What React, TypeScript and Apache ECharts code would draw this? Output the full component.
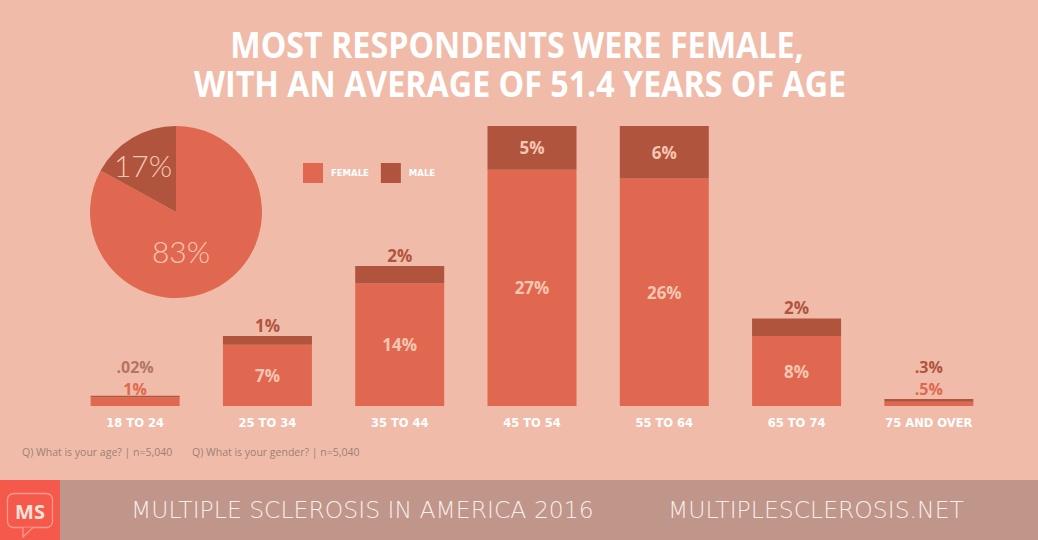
import React, { useEffect, useRef } from "react";
import * as echarts from "echarts";

const categories = ["18 TO 24", "25 TO 34", "35 TO 44", "45 TO 54", "55 TO 64", "65 TO 74", "75 AND OVER"];
const femaleValues = [1, 7, 14, 27, 26, 8, 0.5];
const maleValues = [0.02, 1, 2, 5, 6, 2, 0.3];
const femaleLabels = ["1%", "7%", "14%", "27%", "26%", "8%", ".5%"];
const maleLabels = [".02%", "1%", "2%", "5%", "6%", "2%", ".3%"];
const genderNames = ["FEMALE", "MALE"];
const genderShare = [83, 17];
const titleLines = ["MOST RESPONDENTS WERE FEMALE,", "WITH AN AVERAGE OF 51.4 YEARS OF AGE"];
const footnotes = ["Q) What is your age? | n=5,040", "Q) What is your gender? | n=5,040"];
const footerTexts = ["MULTIPLE SCLEROSIS IN AMERICA 2016", "MULTIPLESCLEROSIS.NET"];

const BG = "#f0bca9";
const FEMALE = "#e06850";
const MALE = "#b0543e";
const LIGHT = "#f6c6b2";
const FONT = "'Open Sans', 'DejaVu Sans', sans-serif";
const WIDE = "'DejaVu Sans', 'Open Sans', sans-serif";

export default function App() {
  const ref = useRef<HTMLDivElement>(null);
  useEffect(() => {
    if (!ref.current) return;
    const chart = echarts.init(ref.current, null, { renderer: "svg" });

    const femaleTopOffsets: Record<number, number[]> = { 0: [0, 3], 6: [0, -2] };
    const maleTopOffsets: Record<number, number[]> = { 0: [0, -17.5], 6: [0, -21] };
    const smallIdx = [0, 6];

    const femaleData = femaleValues.map((v, i) => {
      const inside = v >= 3;
      return {
        value: v,
        label: inside
          ? { show: true, position: "inside", color: LIGHT, formatter: femaleLabels[i] }
          : {
              show: true,
              position: "top",
              color: FEMALE,
              distance: 3,
              fontSize: smallIdx.includes(i) ? 16 : 17,
              lineHeight: 16,
              offset: femaleTopOffsets[i] || [0, 0],
              formatter: femaleLabels[i],
            },
      };
    });
    const maleData = maleValues.map((v, i) => {
      const inside = v >= 4;
      return {
        value: v,
        label: inside
          ? { show: true, position: "inside", color: LIGHT, formatter: maleLabels[i] }
          : {
              show: true,
              position: "top",
              distance: 3,
              fontSize: smallIdx.includes(i) ? 16 : 17,
              lineHeight: 16,
              color: i === 0 ? "#b57562" : MALE,
              offset: maleTopOffsets[i] || [0, 0],
              formatter: maleLabels[i],
            },
      };
    });

    const titleFont = "bold 36px 'Open Sans', sans-serif";
    const footerFont = "200 23.5px 'DejaVu Sans', 'Open Sans', sans-serif";
    const pieFont = "300 30px Lato, 'Open Sans', sans-serif";

    chart.setOption({
      animation: false,
      backgroundColor: BG,
      textStyle: { fontFamily: FONT },
      grid: { left: 69, right: 43, top: 56, bottom: 134 },
      legend: {
        data: genderNames,
        left: 303,
        top: 163,
        padding: 0,
        icon: "rect",
        itemWidth: 20,
        itemHeight: 20,
        itemGap: 12,
        textStyle: { color: "#ffffff", fontSize: 8.5, fontWeight: "bold", fontFamily: WIDE, padding: [0, 0, 0, 3] },
      },
      xAxis: {
        type: "category",
        data: categories,
        axisLine: { show: false },
        axisTick: { show: false },
        axisLabel: { color: "#ffffff", fontSize: 11.5, fontWeight: "bold", margin: 11, fontFamily: WIDE },
      },
      yAxis: { type: "value", min: 0, max: 40, show: false, splitLine: { show: false } },
      series: [
        {
          name: genderNames[0],
          type: "bar",
          stack: "age",
          barWidth: 89,
          itemStyle: { color: FEMALE },
          label: { fontSize: 17, fontWeight: "bold", fontFamily: FONT },
          data: femaleData,
        },
        {
          name: genderNames[1],
          type: "bar",
          stack: "age",
          barWidth: 89,
          barMinHeight: 1.5,
          itemStyle: { color: MALE },
          label: { fontSize: 17, fontWeight: "bold", fontFamily: FONT },
          data: maleData,
        },
        {
          type: "pie",
          center: [176, 212],
          radius: 86,
          startAngle: 90,
          z: 1,
          label: { show: false },
          labelLine: { show: false },
          silent: true,
          data: [
            { name: genderNames[0], value: genderShare[0], itemStyle: { color: FEMALE } },
            { name: genderNames[1], value: genderShare[1], itemStyle: { color: MALE } },
          ],
        },
      ],
      graphic: [
        {
          type: "text",
          x: 517,
          y: 44,
          scaleX: 0.895,
          z: 100,
          style: { text: titleLines[0], fill: "#ffffff", font: titleFont, align: "center", verticalAlign: "middle" },
        },
        {
          type: "text",
          x: 520,
          y: 83,
          scaleX: 0.895,
          z: 100,
          style: { text: titleLines[1], fill: "#ffffff", font: titleFont, align: "center", verticalAlign: "middle" },
        },
        {
          type: "text",
          x: 143,
          y: 165,
          z: 100,
          style: { text: genderShare[1] + "%", fill: LIGHT, font: pieFont, align: "center", verticalAlign: "middle" },
        },
        {
          type: "text",
          x: 181,
          y: 251,
          z: 100,
          style: { text: genderShare[0] + "%", fill: LIGHT, font: pieFont, align: "center", verticalAlign: "middle" },
        },
        {
          type: "text",
          x: 22,
          y: 452,
          style: { text: footnotes[0], fill: "#9c8076", font: "10.5px " + FONT, verticalAlign: "middle" },
        },
        {
          type: "text",
          x: 192,
          y: 452,
          style: { text: footnotes[1], fill: "#9c8076", font: "10.5px " + FONT, verticalAlign: "middle" },
        },
        { type: "rect", z: 50, shape: { x: 0, y: 480, width: 1038, height: 60 }, style: { fill: "#c0958a" } },
        { type: "rect", z: 51, shape: { x: 0, y: 480, width: 60, height: 60 }, style: { fill: "#f5594b" } },
        {
          type: "rect",
          z: 52,
          shape: { x: 7.5, y: 493.5, width: 45, height: 34, r: 6 },
          style: { fill: "none", stroke: "#f99a8c", lineWidth: 1.3 },
        },
        {
          type: "polyline",
          z: 53,
          shape: { points: [[23, 527.5], [23, 537], [33, 527.5]] },
          style: { fill: "#f5594b", stroke: "#f99a8c", lineWidth: 1.3 },
        },
        {
          type: "text",
          x: 30,
          y: 511,
          z: 54,
          style: { text: "MS", fill: "#fde2da", font: "bold 20px " + FONT, align: "center", verticalAlign: "middle" },
        },
        {
          type: "text",
          x: 131,
          y: 510,
          z: 54,
          style: { text: footerTexts[0], fill: "#f7ede9", font: footerFont, verticalAlign: "middle" },
        },
        {
          type: "text",
          x: 668,
          y: 510,
          z: 54,
          style: { text: footerTexts[1], fill: "#f7ede9", font: footerFont, verticalAlign: "middle" },
        },
      ],
    });
    return () => chart.dispose();
  }, []);
  return <div ref={ref} style={{ position: "absolute", left: 0, top: 0, width: 1038, height: 540 }} />;
}
